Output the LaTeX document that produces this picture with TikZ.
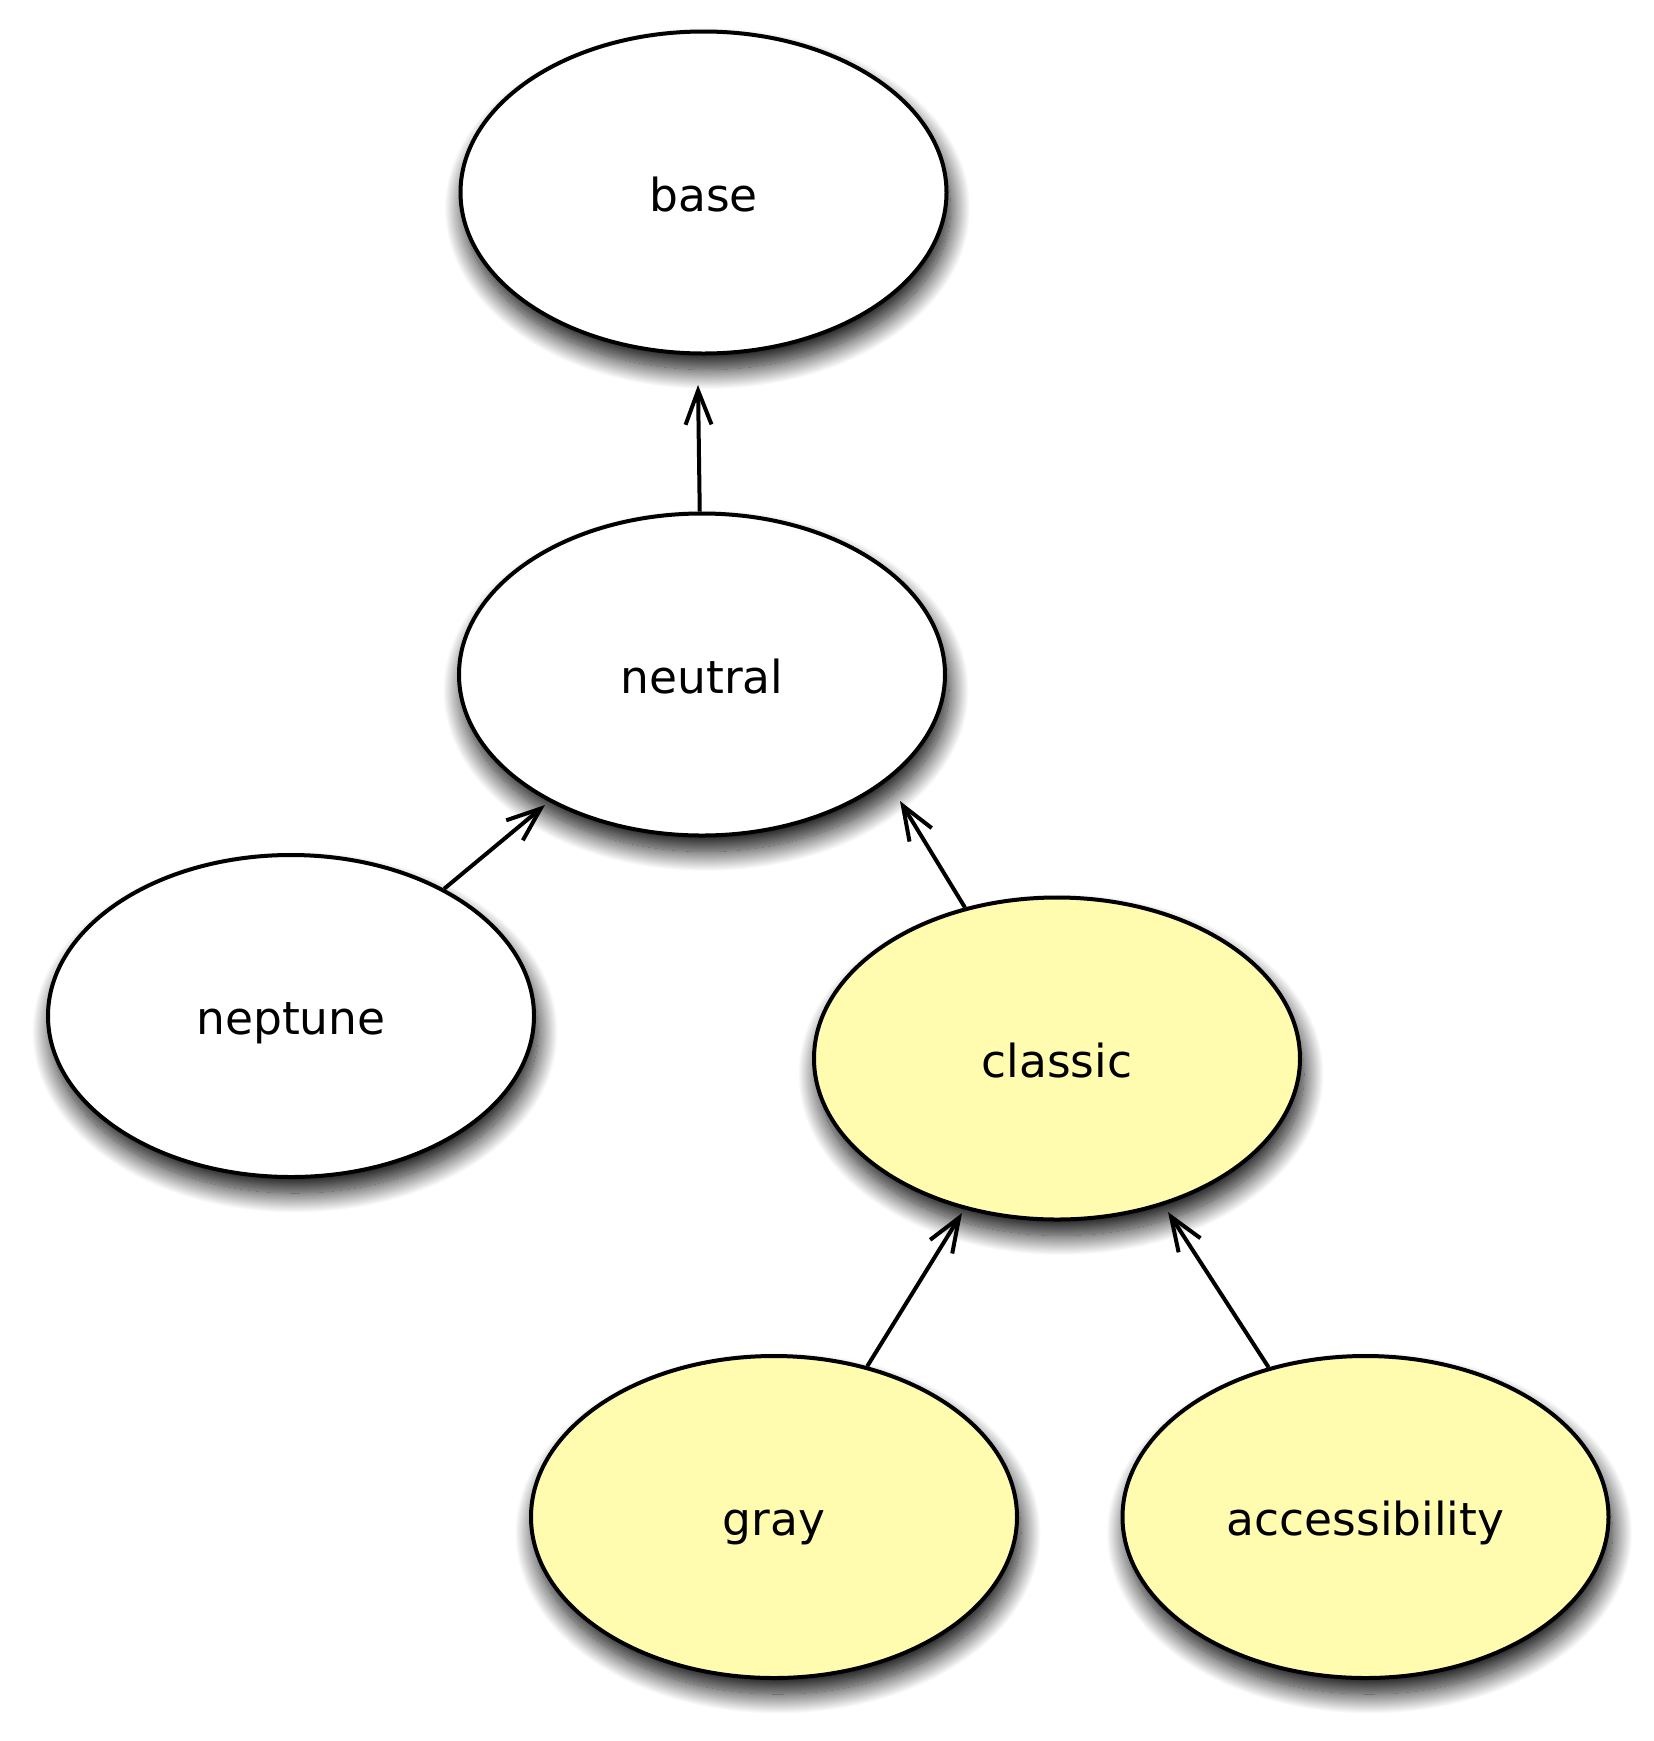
\documentclass[tikz,border=0pt]{standalone}
\usepackage{fontspec}
\setmainfont{DejaVu Sans}
\usetikzlibrary{shapes.geometric,arrows.meta,shadows.blur}
\definecolor{nodeyellow}{RGB}{255,252,175}
\begin{document}
\begin{tikzpicture}[x=1pt,y=-1pt,
  ell/.style={ellipse, draw=black, line width=4pt, fill=white,
    minimum width=486pt, minimum height=322pt, inner sep=0pt,
    font=\fontsize{45.5}{54}\selectfont, text height=37pt, text depth=0pt,
    blur shadow={shadow xshift=4pt, shadow yshift=-16pt, shadow blur radius=20pt, shadow blur steps=25, shadow opacity=95}},
  yell/.style={ell, fill=nodeyellow},
  arr/.style={line width=4pt, -{Straight Barb[length=34pt,width=26pt]}}]
\useasboundingbox (0,0) rectangle (1654,1741);
\node[ell]  (base)    at (703.5,192.5) {base};
\node[ell]  (neutral) at (702,674.5)   {neutral};
\node[ell]  (neptune) at (291,1016)    {neptune};
\node[yell] (classic) at (1057,1058.5) {classic};
\node[yell] (gray)    at (774,1517)    {gray};
\node[yell] (access)  at (1365.5,1517) {accessibility};
\coordinate (tbase)    at (698,385);
\coordinate (tneptune) at (545,805);
\coordinate (tclassic) at (900,801);
\coordinate (tgray)    at (962,1213);
\coordinate (taccess)  at (1168,1212);
\draw[arr] (neutral) -- (tbase);
\draw[arr] (neptune) -- (tneptune);
\draw[arr] (classic) -- (tclassic);
\draw[arr] (gray) -- (tgray);
\draw[arr] (access) -- (taccess);
\end{tikzpicture}
\end{document}
